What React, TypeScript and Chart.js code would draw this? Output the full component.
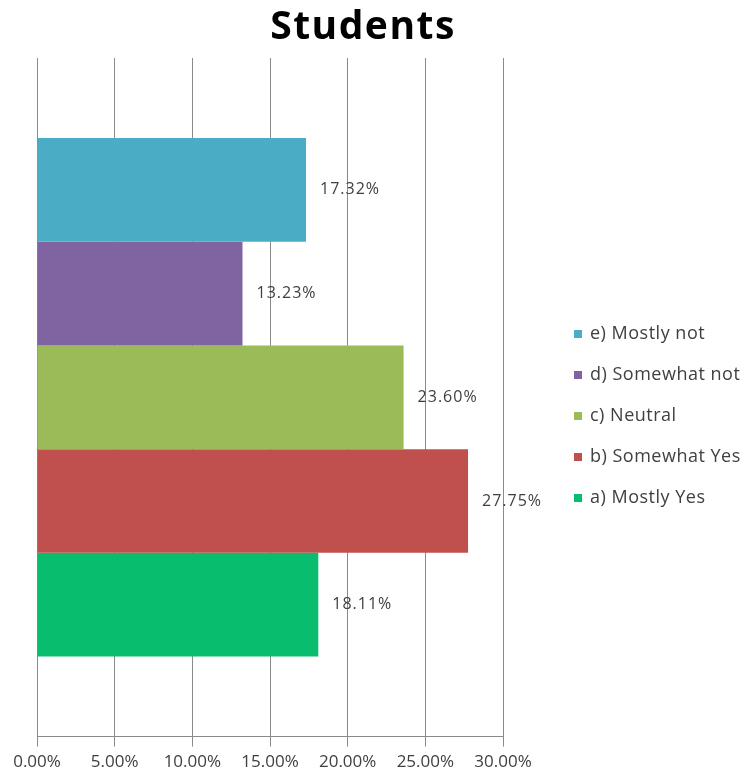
import React, { useEffect, useRef } from "react";
import { Chart, registerables } from "chart.js";

Chart.register(...registerables);

const categories = ["Students"];
const seriesLabels = ["e) Mostly not", "d) Somewhat not", "c) Neutral", "b) Somewhat Yes", "a) Mostly Yes"];
const seriesValues = [17.32, 13.23, 23.6, 27.75, 18.11];
const seriesColors = ["#4BACC6", "#8064A2", "#9BBB59", "#C0504D", "#08BD6E"];
const tickValues = [0, 5, 10, 15, 20, 25, 30];
const titleText = "Students";

const overlayPlugin = {
  id: "overlay",
  afterDraw(chart: any) {
    const ctx = chart.ctx;
    ctx.save();
    // title
    ctx.fillStyle = "#000000";
    ctx.font = "bold 39px 'Open Sans'";
    ctx.textAlign = "center";
    ctx.textBaseline = "middle";
    try { (ctx as any).letterSpacing = "1.5px"; } catch (e) {}
    ctx.fillText(titleText, 363, 28);

    // value labels
    ctx.font = "16px 'Open Sans'";
    ctx.fillStyle = "#404040";
    ctx.textAlign = "left";
    try { (ctx as any).letterSpacing = "1px"; } catch (e) {}
    chart.data.datasets.forEach((ds: any, i: number) => {
      const meta = chart.getDatasetMeta(i);
      const bar = meta.data[0];
      if (!bar) return;
      ctx.fillText(ds.data[0].toFixed(2) + "%", bar.x + 14, bar.y);
    });

    // legend
    ctx.font = "18px 'Open Sans'";
    try { (ctx as any).letterSpacing = "0.5px"; } catch (e) {}
    chart.data.datasets.forEach((ds: any, i: number) => {
      const cy = 334 + i * 41;
      ctx.fillStyle = ds.backgroundColor;
      ctx.fillRect(574, cy - 4, 8, 8);
      ctx.fillStyle = "#404040";
      ctx.fillText(ds.label, 590, cy);
    });
    ctx.restore();
  },
};

export default function App() {
  const ref = useRef<HTMLCanvasElement | null>(null);
  useEffect(() => {
    if (!ref.current) return;
    const chart = new Chart(ref.current, {
      type: "bar",
      data: {
        labels: categories,
        datasets: seriesLabels.map((label, i) => ({
          label,
          data: [seriesValues[i]],
          backgroundColor: seriesColors[i],
          borderWidth: 0,
          categoryPercentage: 0.764,
          barPercentage: 1,
        })),
      },
      options: {
        indexAxis: "y",
        animation: false,
        responsive: false,
        layout: { padding: { left: 37, right: 250, top: 58, bottom: 0 } },
        plugins: {
          legend: { display: false },
          title: { display: false },
          tooltip: { enabled: false },
        },
        scales: {
          x: {
            min: 0,
            max: 30,
            afterBuildTicks: (scale: any) => {
              scale.ticks = tickValues.map((v) => ({ value: v }));
            },
            ticks: {
              color: "#404040",
              font: { family: "'Open Sans'", size: 17 },
              padding: 5,
              maxRotation: 0,
              autoSkip: false,
              callback: (v: any) => Number(v).toFixed(2) + "%",
            },
            grid: { color: "#8a8a8a", lineWidth: 1, tickLength: 10, drawTicks: true },
            border: { display: true, color: "#8a8a8a" },
          },
          y: {
            display: false,
            grid: { display: false },
          },
        },
      },
      plugins: [overlayPlugin],
    } as any);
    return () => chart.destroy();
  }, []);
  return (
    <div style={{ position: "absolute", left: 0, top: 0, width: 753, height: 777, background: "#fff" }}>
      <canvas ref={ref} width={753} height={777} style={{ display: "block" }} />
    </div>
  );
}
